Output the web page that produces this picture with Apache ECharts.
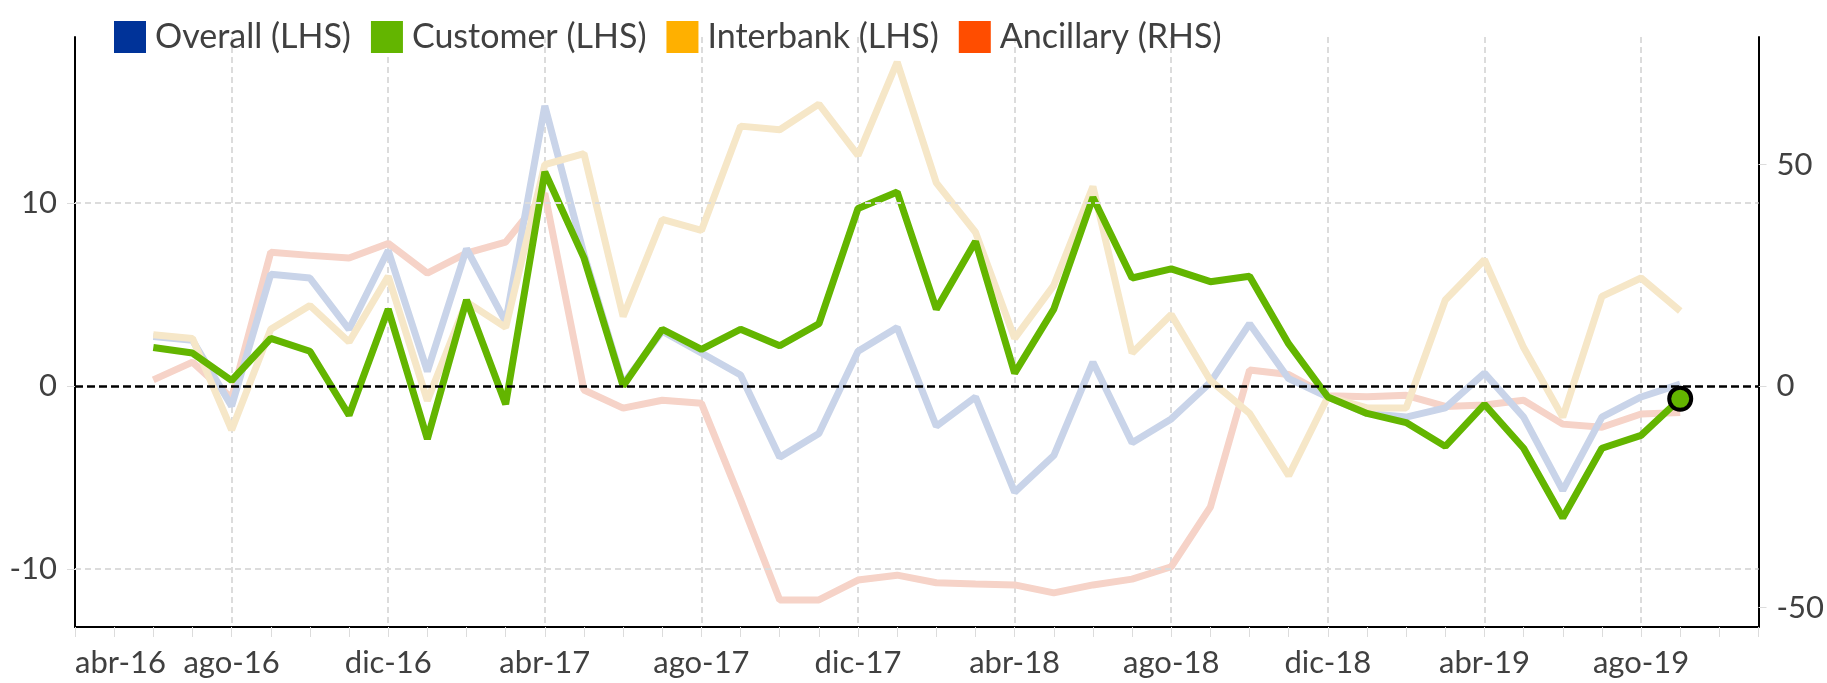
<!DOCTYPE html>
<html>
<head>
<meta charset="utf-8">
<script src="https://cdn.jsdelivr.net/npm/echarts@6/dist/echarts.min.js"></script>
<style>
  html, body { margin: 0; padding: 0; background: #fff; }
  #chart { width: 1827px; height: 683px; }
</style>
</head>
<body>
<div id="chart"></div>
<script>
// months on the axis, abr-16 .. nov-19
const months = ['abr-16', 'may-16', 'jun-16', 'jul-16', 'ago-16', 'sep-16', 'oct-16', 'nov-16', 'dic-16',
  'ene-17', 'feb-17', 'mar-17', 'abr-17', 'may-17', 'jun-17', 'jul-17', 'ago-17', 'sep-17', 'oct-17', 'nov-17', 'dic-17',
  'ene-18', 'feb-18', 'mar-18', 'abr-18', 'may-18', 'jun-18', 'jul-18', 'ago-18', 'sep-18', 'oct-18', 'nov-18', 'dic-18',
  'ene-19', 'feb-19', 'mar-19', 'abr-19', 'may-19', 'jun-19', 'jul-19', 'ago-19', 'sep-19', 'oct-19', 'nov-19'];

// LHS series
const overall = [null, null, 2.7, 2.5, -1.1, 6.1, 5.9, 3.1, 7.4, 0.8, 7.5, 3.5, 15.3, 7.2, 0.1, 3.0, 1.8, 0.6, -3.9, -2.6,
  1.9, 3.2, -2.2, -0.6, -5.8, -3.8, 1.3, -3.1, -1.8, 0.2, 3.4, 0.4, -0.6, -1.5, -1.7, -1.2, 0.7, -1.7, -5.7, -1.7, -0.6, 0.1, null, null];
const customer = [null, null, 2.1, 1.8, 0.3, 2.6, 1.9, -1.6, 4.2, -2.9, 4.7, -1.0, 11.7, 7.0, 0.0, 3.1, 2.0, 3.1, 2.2, 3.4,
  9.7, 10.6, 4.2, 7.9, 0.7, 4.2, 10.3, 5.9, 6.4, 5.7, 6.0, 2.3, -0.6, -1.5, -2.0, -3.3, -1.0, -3.4, -7.2, -3.4, -2.7, -0.7, null, null];
const interbank = [null, null, 2.8, 2.6, -2.4, 3.1, 4.4, 2.4, 6.0, -0.8, 4.6, 3.2, 12.1, 12.7, 3.8, 9.1, 8.5, 14.2, 14.0, 15.4,
  12.6, 17.7, 11.1, 8.4, 2.6, 5.5, 10.9, 1.8, 3.9, 0.3, -1.5, -4.9, -0.6, -1.2, -1.2, 4.7, 6.9, 2.1, -1.7, 4.9, 5.9, 4.1, null, null];
// RHS series
const ancillary = [null, null, 1.4, 5.4, -2.7, 30.2, 29.5, 28.9, 32.2, 25.5, 30.0, 32.5, 43.5, -0.9, -5.0, -3.2, -3.9, -25.7, -48.3, -48.3,
  -43.8, -42.7, -44.4, -44.7, -44.9, -46.7, -44.9, -43.6, -40.8, -27.3, 3.6, 2.6, -2.2, -2.4, -2.1, -4.6, -4.3, -3.2, -8.6, -9.3, -6.3, -6.0, null, null];

const leftTicks = [-10, 0, 10];
const rightTicks = [-50, 0, 50];

const FONT = 'Lato';
const TXT = '#404040';
const GRID = '#dcdcdc';

let lastIdx = 0;
customer.forEach((v, i) => { if (v !== null) lastIdx = i; });

var myChart = echarts.init(document.getElementById('chart'));

var option = {
  animation: false,
  textStyle: { fontFamily: FONT },
  legend: {
    left: 109,
    top: 15,
    icon: 'rect',
    itemWidth: 32,
    itemHeight: 32,
    itemGap: 20,
    textStyle: { fontSize: 34, color: TXT, fontFamily: FONT, padding: [0, 0, 0, 4] },
    data: [
      { name: 'Overall (LHS)', itemStyle: { color: '#003399' } },
      { name: 'Customer (LHS)', itemStyle: { color: '#63B500' } },
      { name: 'Interbank (LHS)', itemStyle: { color: '#FFB000' } },
      { name: 'Ancillary (RHS)', itemStyle: { color: '#FF4D00' } }
    ]
  },
  grid: { left: 75, right: 67, top: 37, bottom: 56 },
  xAxis: {
    type: 'category',
    boundaryGap: false,
    data: months,
    axisLine: { onZero: false, lineStyle: { color: '#000', width: 2 } },
    axisTick: { show: true, interval: 0, length: 10, lineStyle: { color: GRID } },
    axisLabel: { interval: 3, fontSize: 31, color: TXT, margin: 20, alignMinLabel: 'left' },
    splitLine: { show: true, interval: 3, lineStyle: { color: GRID, type: [6, 4], width: 2 } }
  },
  yAxis: [
    {
      type: 'value',
      min: -13.17,
      max: 19.07,
      splitNumber: 3,
      axisLine: { show: true, lineStyle: { color: '#000', width: 2 } },
      axisTick: { show: true, length: 8, lineStyle: { color: GRID } },
      axisLabel: {
        fontSize: 31, color: TXT, margin: 18, showMinLabel: false, showMaxLabel: false,
        formatter: v => leftTicks.indexOf(v) >= 0 ? String(v) : ''
      },
      splitLine: { show: false }
    },
    {
      type: 'value',
      position: 'right',
      min: -54.4,
      max: 78.8,
      splitNumber: 3,
      axisLine: { show: true, lineStyle: { color: '#000', width: 2 } },
      axisTick: { show: true, length: 8, lineStyle: { color: GRID } },
      axisLabel: {
        fontSize: 31, color: TXT, margin: 18, showMinLabel: false, showMaxLabel: false,
        formatter: v => rightTicks.indexOf(v) >= 0 ? String(v) : ''
      },
      splitLine: { show: false }
    }
  ],
  series: [
    {
      name: 'Ancillary (RHS)',
      type: 'line',
      yAxisIndex: 1,
      data: ancillary,
      z: 2
    },
    {
      name: 'Overall (LHS)',
      type: 'line',
      yAxisIndex: 0,
      data: overall,
      z: 2,
      // light horizontal gridlines at the LHS ticks
      markLine: {
        silent: true,
        symbol: 'none',
        label: { show: false },
        lineStyle: { color: GRID, type: [6, 4], width: 2 },
        data: leftTicks.filter(t => t !== 0).map(t => ({ yAxis: t }))
      }
    },
    {
      name: 'Interbank (LHS)',
      type: 'line',
      yAxisIndex: 0,
      data: interbank,
      z: 2,
      // dashed zero line
      markLine: {
        silent: true,
        symbol: 'none',
        label: { show: false },
        lineStyle: { color: '#000', type: [8, 4], width: 2.5 },
        data: [{ yAxis: 0 }]
      }
    },
    {
      name: 'Customer (LHS)',
      type: 'line',
      yAxisIndex: 0,
      z: 4,
      data: customer.map((v, i) => i === lastIdx ? {
        value: v, symbol: 'circle', symbolSize: 22,
        itemStyle: { color: '#63B500', borderColor: '#000', borderWidth: 4 }
      } : v)
    }
  ].map(obj => ({
    ...obj,
    symbol: 'none',
    lineStyle: {
      width: 7,
      color: {
        'Overall (LHS)': '#C9D4E9',
        'Customer (LHS)': '#63B500',
        'Interbank (LHS)': '#F6E7C8',
        'Ancillary (RHS)': '#F6D3C8'
      }[obj.name]
    },
    itemStyle: { color: obj.name === 'Customer (LHS)' ? '#63B500' : '#999' }
  }))
};

myChart.setOption(option);
</script>
</body>
</html>
